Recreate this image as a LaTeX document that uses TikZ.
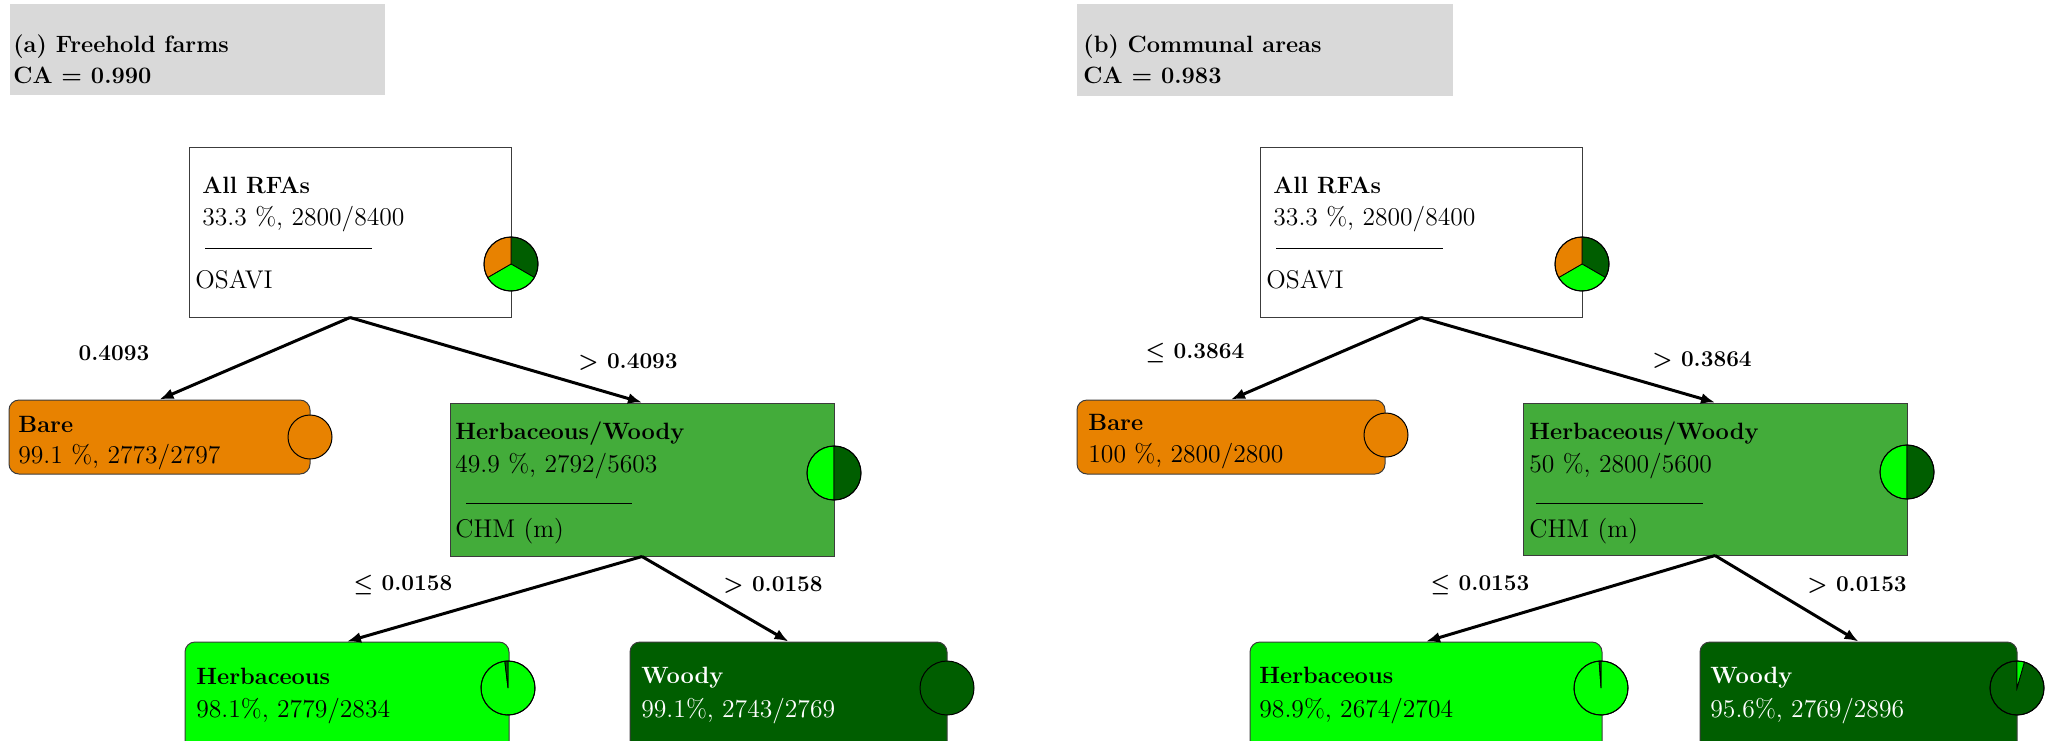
\documentclass[tikz,border=0pt]{standalone}
\usetikzlibrary{arrows.meta}
\definecolor{titlegray}{RGB}{217,217,217}
\definecolor{bareorange}{RGB}{232,130,0}
\definecolor{mixgreen}{RGB}{67,172,58}
\definecolor{herbgreen}{RGB}{0,255,0}
\definecolor{woodgreen}{RGB}{0,94,0}
\definecolor{edgegray}{RGB}{60,60,60}
% one wedge of a pie chart: colour, centre, start angle, end angle, radius
\newcommand{\piewedge}[5]{\fill[#1,draw=black,line width=0.4pt] (#2) -- ++(#3:#5) arc[start angle=#3, end angle=#4, radius=#5] -- cycle;}
\newcommand{\pierim}[2]{\draw[black,line width=0.5pt] (#1) circle[radius=#2];}
\begin{document}
\begin{tikzpicture}[x=0.5pt,y=-0.5pt,
  titlebox/.style={fill=titlegray,draw=none,inner sep=0pt},
  splitbox/.style={draw=edgegray,line width=0.5pt,inner sep=0pt},
  leafbox/.style={draw=edgegray,line width=0.5pt,inner sep=0pt,rounded corners=5pt},
  txt/.style={anchor=base west,inner sep=0pt,font=\fontsize{12.8}{15}\selectfont},
  hd/.style={anchor=base west,inner sep=0pt,font=\fontsize{11.8}{14}\selectfont\bfseries},
  lab/.style={inner sep=0pt,font=\fontsize{11.3}{13}\selectfont\bfseries},
  arr/.style={line width=1.5pt,-{Latex[length=7pt,width=5.5pt]}},
  sep/.style={line width=0.5pt,black}]
\useasboundingbox (0,0) rectangle (2049,740);

% ---------------- (a) Freehold farms ----------------
\node[titlebox,minimum width=187.5pt,minimum height=45.5pt] (titleA) at (197.5,49.5) {};
\node[hd] (titleAa) at (13,52) {(a) Freehold farms};
\node[hd] (titleAb) at (13,83) {CA = 0.990};

\node[splitbox,fill=white,minimum width=161pt,minimum height=85pt] (rootA) at (350,232) {};
\node[hd] (rootAa) at (202,193) {All RFAs};
\node[txt] (rootAb) at (202,225) {33.3 \%, 2800/8400};
\draw[sep] (205,248) -- (372,248);
\node[txt] (rootAc) at (195,288) {OSAVI};
\coordinate (pieRootA) at (511,264);
\piewedge{woodgreen}{pieRootA}{-30}{90}{13.5pt}
\piewedge{herbgreen}{pieRootA}{210}{330}{13.5pt}
\piewedge{bareorange}{pieRootA}{90}{210}{13.5pt}
\pierim{pieRootA}{13.5pt}

\node[leafbox,fill=bareorange,minimum width=150.5pt,minimum height=37pt] (bareA) at (159.5,437) {};
\node[hd] (bareAa) at (18,432) {Bare};
\node[txt] (bareAb) at (18,463) {99.1 \%, 2773/2797};
\coordinate (pieBareA) at (310,437);
\fill[bareorange] (pieBareA) circle[radius=11pt];
\pierim{pieBareA}{11pt}

\node[splitbox,fill=mixgreen,minimum width=192pt,minimum height=76.5pt] (hwA) at (642,479.5) {};
\node[hd] (hwAa) at (455,439) {Herbaceous/Woody};
\node[txt] (hwAb) at (455,472) {49.9 \%, 2792/5603};
\draw[sep] (466,503) -- (632,503);
\node[txt] (hwAc) at (455,537) {CHM (m)};
\coordinate (pieHwA) at (834,473);
\piewedge{herbgreen}{pieHwA}{90}{270}{13.5pt}
\piewedge{woodgreen}{pieHwA}{-90}{90}{13.5pt}
\pierim{pieHwA}{13.5pt}

\node[leafbox,fill=herbgreen,minimum width=162pt,minimum height=64pt] (herbA) at (347,706) {};
\node[hd] (herbAa) at (196,684) {Herbaceous};
\node[txt] (herbAb) at (196,717) {98.1\%, 2779/2834};
\coordinate (pieHerbA) at (508,688);
\piewedge{herbgreen}{pieHerbA}{96.8}{450}{13.5pt}
\piewedge{woodgreen}{pieHerbA}{90}{96.8}{13.5pt}
\pierim{pieHerbA}{13.5pt}

\node[leafbox,fill=woodgreen,minimum width=158.5pt,minimum height=64pt] (woodyA) at (788.5,706) {};
\node[hd,text=white] (woodyAa) at (641,683) {Woody};
\node[txt,text=white] (woodyAb) at (641,717) {99.1\%, 2743/2769};
\coordinate (pieWoodyA) at (947,688);
\fill[woodgreen] (pieWoodyA) circle[radius=13.5pt];
\pierim{pieWoodyA}{13.5pt}

\draw[arr] (rootA.south) -- (bareA.north);
\draw[arr] (rootA.south) -- (hwA.north);
\draw[arr] (hwA.south) -- (herbA.north);
\draw[arr] (hwA.south) -- (woodyA.north);
\node[lab] (edgeA1) at (114,353) {0.4093};
\node[lab] (edgeA2) at (628,362) {> 0.4093};
\node[lab] (edgeA3) at (403,585) {{\boldmath$\le$} 0.0158};
\node[lab] (edgeA4) at (773,585) {> 0.0158};

% ---------------- (b) Communal areas ----------------
\node[titlebox,minimum width=188pt,minimum height=46pt] (titleB) at (1265,50) {};
\node[hd] (titleBa) at (1083,52) {(b) Communal areas};
\node[hd] (titleBb) at (1083,83) {CA = 0.983};

\node[splitbox,fill=white,minimum width=161pt,minimum height=85pt] (rootB) at (1421,232) {};
\node[hd] (rootBa) at (1273,193) {All RFAs};
\node[txt] (rootBb) at (1273,225) {33.3 \%, 2800/8400};
\draw[sep] (1276,248) -- (1443,248);
\node[txt] (rootBc) at (1266,288) {OSAVI};
\coordinate (pieRootB) at (1582,264);
\piewedge{woodgreen}{pieRootB}{-30}{90}{13.5pt}
\piewedge{herbgreen}{pieRootB}{210}{330}{13.5pt}
\piewedge{bareorange}{pieRootB}{90}{210}{13.5pt}
\pierim{pieRootB}{13.5pt}

\node[leafbox,fill=bareorange,minimum width=154pt,minimum height=37pt] (bareB) at (1231,437) {};
\node[hd] (bareBa) at (1088,430) {Bare};
\node[txt] (bareBb) at (1088,462) {100 \%, 2800/2800};
\coordinate (pieBareB) at (1386,435);
\fill[bareorange] (pieBareB) circle[radius=11pt];
\pierim{pieBareB}{11pt}

\node[splitbox,fill=mixgreen,minimum width=192pt,minimum height=76pt] (hwB) at (1715,479) {};
\node[hd] (hwBa) at (1529,439) {Herbaceous/Woody};
\node[txt] (hwBb) at (1529,472) {50 \%, 2800/5600};
\draw[sep] (1536,503) -- (1703,503);
\node[txt] (hwBc) at (1529,537) {CHM (m)};
\coordinate (pieHwB) at (1907,472);
\piewedge{herbgreen}{pieHwB}{90}{270}{13.5pt}
\piewedge{woodgreen}{pieHwB}{-90}{90}{13.5pt}
\pierim{pieHwB}{13.5pt}

\node[leafbox,fill=herbgreen,minimum width=176pt,minimum height=64pt] (herbB) at (1426,706) {};
\node[hd] (herbBa) at (1259,683) {Herbaceous};
\node[txt] (herbBb) at (1259,717) {98.9\%, 2674/2704};
\coordinate (pieHerbB) at (1601,688);
\piewedge{herbgreen}{pieHerbB}{94}{450}{13.5pt}
\piewedge{woodgreen}{pieHerbB}{90}{94}{13.5pt}
\pierim{pieHerbB}{13.5pt}

\node[leafbox,fill=woodgreen,minimum width=158.5pt,minimum height=64pt] (woodyB) at (1858.5,706) {};
\node[hd,text=white] (woodyBa) at (1710,683) {Woody};
\node[txt,text=white] (woodyBb) at (1710,717) {95.6\%, 2769/2896};
\coordinate (pieWoodyB) at (2017,688);
\piewedge{woodgreen}{pieWoodyB}{90}{434.2}{13.5pt}
\piewedge{herbgreen}{pieWoodyB}{74.2}{90}{13.5pt}
\pierim{pieWoodyB}{13.5pt}

\draw[arr] (rootB.south) -- (bareB.north);
\draw[arr] (rootB.south) -- (hwB.north);
\draw[arr] (hwB.south) -- (herbB.north);
\draw[arr] (hwB.south) -- (woodyB.north);
\node[lab] (edgeB1) at (1195,353) {{\boldmath$\le$} 0.3864};
\node[lab] (edgeB2) at (1702,360) {> 0.3864};
\node[lab] (edgeB3) at (1480,585) {{\boldmath$\le$} 0.0153};
\node[lab] (edgeB4) at (1857,585) {> 0.0153};
\end{tikzpicture}
\end{document}
